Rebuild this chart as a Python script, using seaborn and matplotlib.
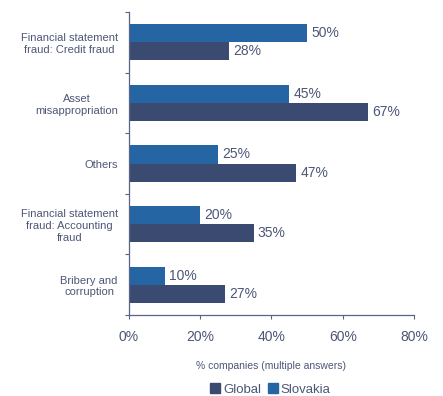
import matplotlib
matplotlib.use("Agg")
import matplotlib.pyplot as plt
import seaborn as sns
import pandas as pd
from matplotlib.ticker import FixedLocator

categories = [
    "Financial statement\nfraud: Credit fraud",
    "Asset\nmisappropriation",
    "Others",
    "Financial statement\nfraud: Accounting\nfraud",
    "Bribery and\ncorruption",
]
slovakia = [50, 45, 25, 20, 10]
global_vals = [28, 67, 47, 35, 27]
xticks = [0, 20, 40, 60, 80]

df = pd.DataFrame({
    "category": categories * 2,
    "value": slovakia + global_vals,
    "region": ["Slovakia"] * len(categories) + ["Global"] * len(categories),
})

sns.set_style("white")
plt.rcParams["font.family"] = ["Liberation Sans", "DejaVu Sans"]

text_col = "#4d5676"
axis_col = "#5a6484"
palette = {"Slovakia": "#2565a3", "Global": "#3a4a71"}

fig = plt.figure(figsize=(4.43, 3.96), dpi=100)
ax = fig.add_axes([0.291, 0.2045, 0.6435, 0.7652])

sns.barplot(data=df, y="category", x="value", hue="region",
            hue_order=["Slovakia", "Global"], order=categories,
            palette=palette, orient="h", width=0.6, saturation=1,
            linewidth=0, ax=ax, legend=False)

for cont in ax.containers:
    ax.bar_label(cont, fmt="%d%%", padding=3, color=text_col, fontsize=10)

ax.set_xlim(0, 80)
ax.set_ylim(len(categories) - 0.5, -0.5)
ax.set_xticks(xticks)
ax.set_xticklabels([f"{v}%" for v in xticks], color=text_col, fontsize=10)
ax.tick_params(axis="x", bottom=True, length=3, width=0.8, color=axis_col, pad=8,
               direction="out")

# Category labels at centers, tick marks at category boundaries
ax.yaxis.set_major_locator(FixedLocator([i - 0.5 for i in range(len(categories) + 1)]))
ax.yaxis.set_minor_locator(FixedLocator(list(range(len(categories)))))
ax.set_yticklabels([""] * (len(categories) + 1))
ax.set_yticklabels(categories, minor=True, color=text_col, fontsize=8,
                   multialignment="center")
ax.tick_params(axis="y", which="major", left=True, length=3, width=0.8, color=axis_col,
               direction="out")
ax.tick_params(axis="y", which="minor", left=True, length=0, pad=8)

ax.set_ylabel("")
ax.set_xlabel("% companies (multiple answers)", color=text_col, fontsize=7.5, labelpad=12)

for side in ("top", "right"):
    ax.spines[side].set_visible(False)
for side in ("left", "bottom"):
    ax.spines[side].set_color(axis_col)
    ax.spines[side].set_linewidth(0.9)

handles = [plt.Rectangle((0, 0), 1, 1, color=palette["Global"]),
           plt.Rectangle((0, 0), 1, 1, color=palette["Slovakia"])]
fig.legend(handles, ["Global", "Slovakia"], loc="center", bbox_to_anchor=(0.61, 0.016),
           ncol=2, frameon=False, fontsize=9.5, labelcolor=text_col,
           handlelength=0.8, handleheight=0.8, handletextpad=0.2, columnspacing=0.5)

fig.savefig("out.png", dpi=100)
